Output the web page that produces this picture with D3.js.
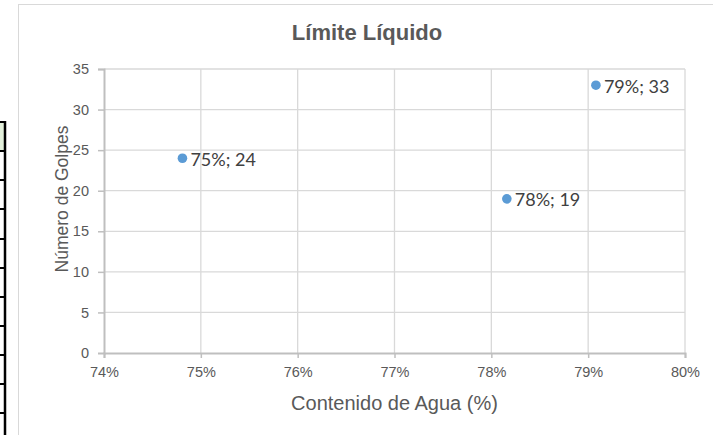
<!DOCTYPE html>
<html>
<head>
<meta charset="utf-8">
<script src="https://cdn.jsdelivr.net/npm/d3@7"></script>
<style>
  body { margin: 0; background: #fff; }
  svg { display: block; }
</style>
</head>
<body>
<svg width="713" height="435"></svg>
<script>
// agua (fraccion) vs numero de golpes
const contenidoAgua = [0.7481, 0.7816, 0.7908];
const numeroGolpes = [24, 19, 33];
const xTicks = [0.74, 0.75, 0.76, 0.77, 0.78, 0.79, 0.80];
const yTicks = [0, 5, 10, 15, 20, 25, 30, 35];
const tableRows = [122, 151, 180, 209, 239, 268, 297, 326, 355, 384, 413];

const svg = d3.select('svg');
const pct = d3.format('.0%');

// fragment of the spreadsheet table peeking in at the left edge
const tbl = svg.append('g').attr('class', 'table');
tbl.append('rect')
    .attr('x', 0).attr('y', tableRows[0])
    .attr('width', 5).attr('height', tableRows[1] - tableRows[0])
    .attr('fill', '#e2efda');
tbl.selectAll('line.row')
    .data(tableRows)
    .enter()
    .append('line')
    .attr('class', 'row')
    .attr('x1', 0).attr('x2', 6)
    .attr('y1', d => d).attr('y2', d => d)
    .attr('stroke', '#000').attr('stroke-width', 2);
tbl.append('line')
    .attr('x1', 5).attr('x2', 5)
    .attr('y1', tableRows[0] - 1).attr('y2', 435)
    .attr('stroke', '#000').attr('stroke-width', 2.5);

// chart frame
svg.append('rect')
    .attr('x', 18.5).attr('y', 4.5)
    .attr('width', 697).attr('height', 440)
    .attr('fill', '#fff')
    .attr('stroke', '#d9d9d9');

const x = d3.scaleLinear().domain([0.74, 0.80]).range([104, 685]);
const y = d3.scaleLinear().domain([0, 35]).range([353, 69]);

// grid
svg.append('g')
    .selectAll('line')
    .data(yTicks.slice(1))
    .enter()
    .append('line')
    .attr('x1', x(0.74)).attr('x2', x(0.80))
    .attr('y1', d => y(d)).attr('y2', d => y(d))
    .attr('stroke', '#d9d9d9').attr('stroke-width', 1.3);

svg.append('g')
    .selectAll('line')
    .data(xTicks.slice(1))
    .enter()
    .append('line')
    .attr('x1', d => x(d)).attr('x2', d => x(d))
    .attr('y1', y(0)).attr('y2', y(35))
    .attr('stroke', '#d9d9d9').attr('stroke-width', 1.3);

// axes
const xAxis = svg.append('g')
    .attr('transform', `translate(0,${y(0)})`)
    .call(d3.axisBottom(x).tickValues(xTicks).tickFormat(pct).tickSize(5).tickPadding(9));
const yAxis = svg.append('g')
    .attr('transform', `translate(${x(0.74)},0)`)
    .call(d3.axisLeft(y).tickValues(yTicks).tickSize(6).tickPadding(9));

[xAxis, yAxis].forEach(g => {
    g.select('.domain').attr('stroke', '#bfbfbf').attr('stroke-width', 2);
    g.selectAll('.tick line').attr('stroke', '#bfbfbf').attr('stroke-width', 1.5);
    g.selectAll('.tick text')
        .attr('fill', '#595959')
        .style('font-family', '"Liberation Sans", Arial, sans-serif')
        .style('font-size', '14.5px');
});
yAxis.select('.tick:first-of-type line').remove();

// points + labels
const pts = contenidoAgua.map((v, i) => ({ x: v, y: numeroGolpes[i] }));

svg.append('g')
    .selectAll('circle')
    .data(pts)
    .enter()
    .append('circle')
    .attr('cx', d => x(d.x))
    .attr('cy', d => y(d.y))
    .attr('r', 4.8)
    .attr('fill', '#5b9bd5');

svg.append('g')
    .selectAll('text')
    .data(pts)
    .enter()
    .append('text')
    .attr('x', d => x(d.x) + 8)
    .attr('y', d => y(d.y))
    .attr('dy', '0.42em')
    .attr('fill', '#404040')
    .style('font-family', 'Lato, "Open Sans", sans-serif')
    .style('font-size', '18px')
    .text(d => `${pct(d.x)}; ${d.y}`);

// titles
svg.append('text')
    .attr('x', 367).attr('y', 40)
    .attr('text-anchor', 'middle')
    .attr('fill', '#595959')
    .style('font-family', '"Liberation Sans", Arial, sans-serif')
    .style('font-size', '22px')
    .style('font-weight', 'bold')
    .text('Límite Líquido');

svg.append('text')
    .attr('x', (x(0.74) + x(0.80)) / 2).attr('y', 410)
    .attr('text-anchor', 'middle')
    .attr('fill', '#595959')
    .style('font-family', '"Liberation Sans", Arial, sans-serif')
    .style('font-size', '20px')
    .text('Contenido de Agua (%)');

svg.append('text')
    .attr('transform', 'translate(68,199) rotate(-90)')
    .attr('text-anchor', 'middle')
    .attr('fill', '#595959')
    .style('font-family', '"Liberation Sans", Arial, sans-serif')
    .style('font-size', '17.5px')
    .text('Número de Golpes');
</script>
</body>
</html>
